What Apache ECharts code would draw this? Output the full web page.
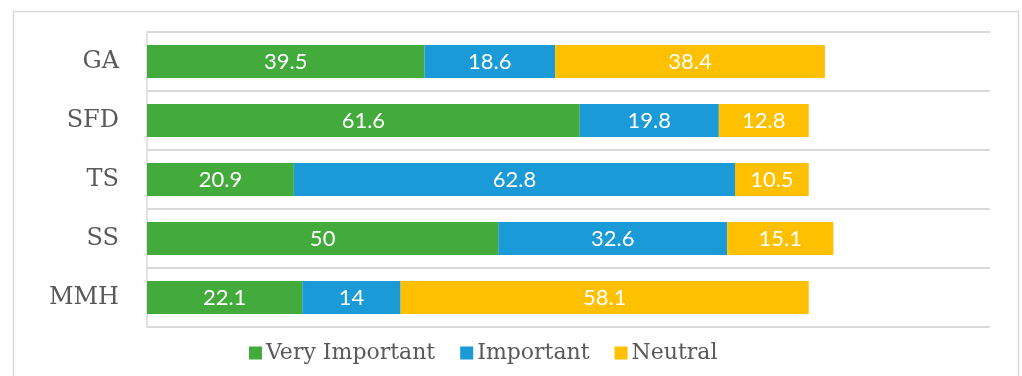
<!DOCTYPE html>
<html>
<head>
<meta charset="utf-8">
<script src="https://cdn.jsdelivr.net/npm/echarts@6/dist/echarts.min.js"></script>
<style>
  html, body { margin: 0; padding: 0; background: #fff; }
  #chart { width: 1022px; height: 376px; }
</style>
</head>
<body>
<div id="chart"></div>
<script>
// Survey factors, top to bottom
const categories = ['GA', 'SFD', 'TS', 'SS', 'MMH'];
const seriesNames = ['Very Important', 'Important', 'Neutral'];
const veryImportant = [39.5, 61.6, 20.9, 50, 22.1];
const important = [18.6, 19.8, 62.8, 32.6, 14];
const neutral = [38.4, 12.8, 10.5, 15.1, 58.1];

const colors = ['#42AB3C', '#1A9AD6', '#FFC000'];
const values = [veryImportant, important, neutral];

const chart = echarts.init(document.getElementById('chart'), null, { renderer: 'canvas' });

chart.setOption({
  animation: false,
  color: colors,
  graphic: [{
    type: 'rect',
    shape: { x: 13.5, y: 11.5, width: 1005, height: 380 },
    style: { fill: 'none', stroke: '#d9d9d9', lineWidth: 1.5 },
    silent: true,
    z: -10
  }],
  grid: { left: 147, right: 32, top: 32, bottom: 49, containLabel: false },
  legend: {
    bottom: 7,
    left: 244,
    itemWidth: 13,
    itemHeight: 13,
    itemGap: 25,
    icon: 'rect',
    textStyle: { fontFamily: 'DejaVu Serif', fontSize: 22, color: '#595959', padding: [0, 0, 0, -1] },
    data: seriesNames
  },
  xAxis: {
    type: 'value',
    min: 0,
    max: 120,
    show: false,
    splitLine: { show: false }
  },
  yAxis: {
    type: 'category',
    data: categories,
    inverse: true,
    axisLine: { show: true, lineStyle: { color: '#d9d9d9', width: 1.5 } },
    axisTick: { show: false },
    splitLine: { show: true, lineStyle: { color: '#d9d9d9', width: 2 } },
    axisLabel: {
      margin: 28,
      fontFamily: 'DejaVu Serif',
      fontSize: 24,
      color: '#595959'
    }
  },
  series: seriesNames.map((name, i) => ({
    name: name,
    type: 'bar',
    stack: 'total',
    barWidth: 33,
    data: values[i],
    label: {
      show: true,
      position: 'inside',
      color: '#ffffff',
      fontFamily: 'Lato',
      fontSize: 22
    }
  }))
});
</script>
</body>
</html>
